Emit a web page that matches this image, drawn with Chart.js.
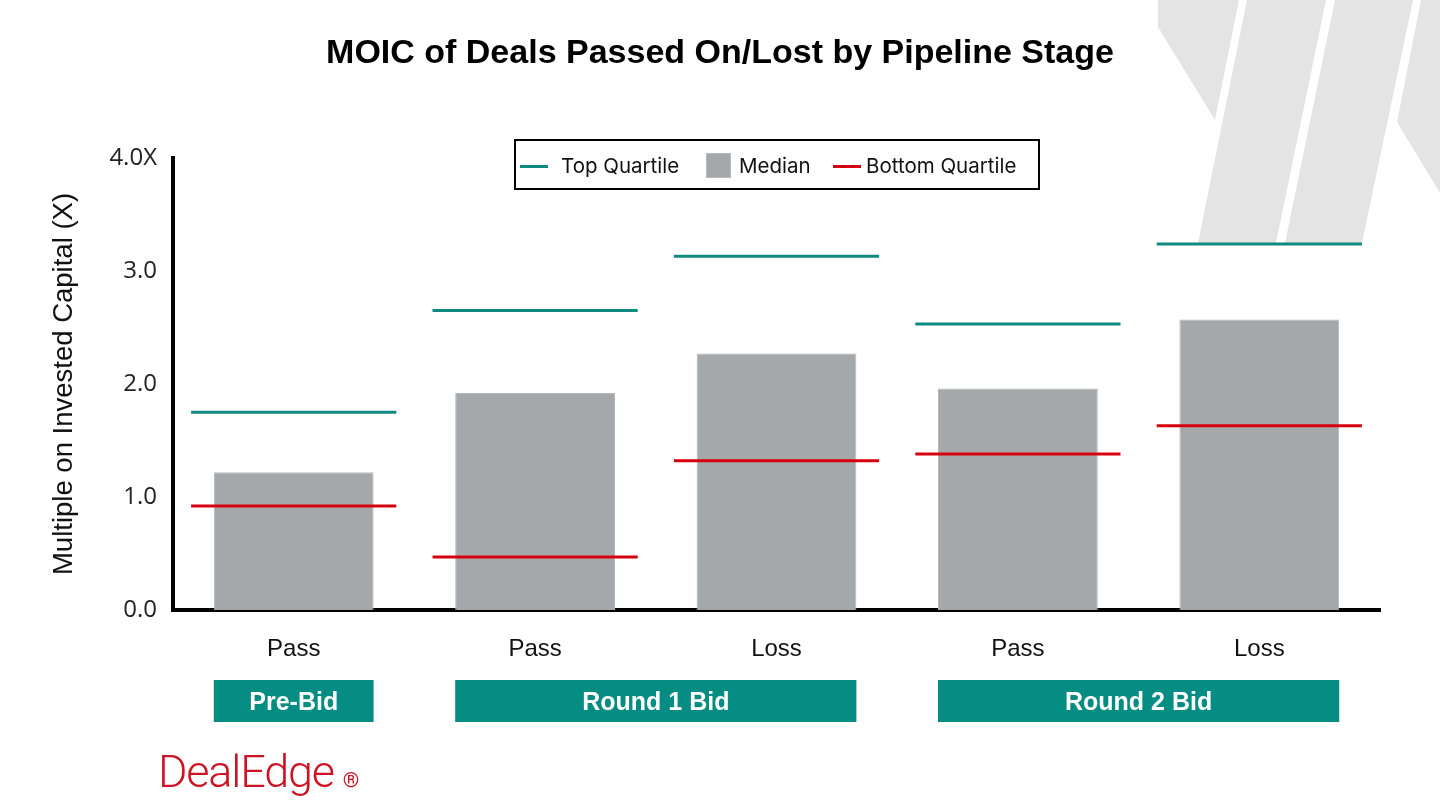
<!DOCTYPE html>
<html>
<head>
<meta charset="utf-8">
<script src="https://cdn.jsdelivr.net/npm/chart.js@4.4.1/dist/chart.umd.min.js"></script>
<style>
  html, body { margin: 0; padding: 0; background: #ffffff; }
  #wrap { position: relative; width: 1440px; height: 810px; overflow: hidden; background: #fff; }
  #deco { position: absolute; left: 0; top: 0; }
  #c { position: absolute; left: 0; top: 0; }
  #title { position: absolute; left: 0; width: 1440px; top: 32px; text-align: center;
           font-family: "Liberation Sans", Arial, sans-serif; font-weight: bold; font-size: 34px; color: #000; }
  #legend { position: absolute; left: 514px; top: 139px; width: 522px; height: 47px; border: 2px solid #000;
            box-sizing: content-box; font-family: Inter, "Noto Sans", sans-serif; font-size: 20.5px; color: #111; }
  .li { position: absolute; top: 1px; height: 47px; line-height: 47px; white-space: nowrap; }
  .sw-line { position: absolute; height: 3px; width: 28px; top: 24px; }
  .sw-box { position: absolute; width: 25px; height: 25px; top: 11px; background: #a4a8ab; border: 1px solid #b8bbbd; box-sizing: border-box; }
  #logo { position: absolute; left: 158px; top: 745px; font-family: Roboto, "Liberation Sans", sans-serif; font-weight: 300;
          font-size: 45px; color: #cc1424; letter-spacing: -1.2px; }
  #logo sup { font-size: 21px; vertical-align: baseline; position: relative; top: 0px; margin-left: 9px; font-weight: 400; letter-spacing: 0; }
</style>
</head>
<body>
<div id="wrap">
  <svg id="deco" width="1440" height="810">
    <polygon points="1158,0 1239,0 1215,120 1158,27" fill="#e4e4e4"/>
    <polygon points="1247,0 1326,0 1276,243 1198,243" fill="#e4e4e4"/>
    <polygon points="1335,0 1413,0 1362,243 1285,243" fill="#e4e4e4"/>
    <polygon points="1421,0 1440,0 1440,193 1397,122" fill="#e4e4e4"/>
  </svg>
  <canvas id="c" width="1440" height="810"></canvas>
  <div id="title">MOIC of Deals Passed On/Lost by Pipeline Stage</div>
  <div id="legend">
    <div class="sw-line" style="left:4px;background:#0e8a80;"></div>
    <div class="li" style="left:45px;">Top Quartile</div>
    <div class="sw-box" style="left:190px;top:12px;"></div>
    <div class="li" style="left:223px;">Median</div>
    <div class="sw-line" style="left:317px;background:#d7000f;"></div>
    <div class="li" style="left:350px;">Bottom Quartile</div>
  </div>
  <div id="logo">DealEdge<sup>®</sup></div>
</div>
<script>
// ---- data ----
const categories = ['Pass', 'Pass', 'Loss', 'Pass', 'Loss'];
const medianValues = [1.22, 1.92, 2.27, 1.96, 2.57];
const topQuartile = [1.75, 2.65, 3.13, 2.53, 3.24];
const bottomQuartile = [0.92, 0.47, 1.32, 1.38, 1.63];
const yTickLabels = ['0.0', '1.0', '2.0', '3.0', '4.0X'];
const stageNames = ['Pre-Bid', 'Round 1 Bid', 'Round 2 Bid'];
const stageStart = [0, 1, 3];
const stageEnd = [0, 2, 4];

const BAR_PCT = 0.662;
const LINE_PCT = 0.85;

const stagePlugin = {
  id: 'stages',
  afterDraw(chart) {
    const x = chart.scales.x;
    const ctx = chart.ctx;
    const catW = x.width / categories.length;
    const half = catW * BAR_PCT / 2;
    ctx.save();
    for (let i = 0; i < stageNames.length; i++) {
      const l = x.getPixelForValue(stageStart[i]) - half;
      const r = x.getPixelForValue(stageEnd[i]) + half;
      ctx.fillStyle = '#058c83';
      ctx.fillRect(l, 680, r - l, 42);
      ctx.fillStyle = '#ffffff';
      ctx.font = 'bold 25px "Liberation Sans", Arial, sans-serif';
      ctx.textAlign = 'center';
      ctx.textBaseline = 'middle';
      ctx.fillText(stageNames[i], (l + r) / 2, 703);
    }
    ctx.restore();
  }
};

const catWidthPx = (1440 - 60 - 173) / categories.length;
const lineRadius = catWidthPx * LINE_PCT / 2;

new Chart(document.getElementById('c'), {
  data: {
    labels: categories,
    datasets: [
      {
        type: 'line', label: 'Top Quartile', data: topQuartile, showLine: false,
        pointStyle: 'line', pointRadius: lineRadius, pointHoverRadius: lineRadius,
        pointBorderWidth: 3, pointBorderColor: '#0e8a80', pointBackgroundColor: '#0e8a80', order: 0, clip: false
      },
      {
        type: 'line', label: 'Bottom Quartile', data: bottomQuartile, showLine: false,
        pointStyle: 'line', pointRadius: lineRadius, pointHoverRadius: lineRadius,
        pointBorderWidth: 3, pointBorderColor: '#d7000f', pointBackgroundColor: '#d7000f', order: 0, clip: false
      },
      {
        type: 'bar', label: 'Median', data: medianValues,
        backgroundColor: '#a4a8ab', borderColor: '#b4b7b9', borderWidth: 1,
        barPercentage: BAR_PCT, categoryPercentage: 1.0, order: 1
      }
    ]
  },
  options: {
    responsive: false,
    animation: false,
    events: [],
    layout: { autoPadding: false, padding: { top: 158, right: 60, bottom: 0, left: 0 } },
    plugins: { legend: { display: false }, tooltip: { enabled: false }, title: { display: false } },
    scales: {
      x: {
        type: 'category',
        grid: { display: false, drawTicks: false },
        border: { display: true, color: '#000', width: 4 },
        ticks: { color: '#111', font: { family: '"Liberation Sans", Arial, sans-serif', size: 24 }, padding: 25, maxRotation: 0 },
        afterFit(s) { s.height = 200; }
      },
      y: {
        min: 0, max: 4,
        grid: { display: false, drawTicks: false },
        border: { display: true, color: '#000', width: 4 },
        ticks: {
          stepSize: 1,
          color: '#222',
          font: { family: '"Open Sans", Lato, sans-serif', size: 24 },
          padding: 16,
          callback: (v) => yTickLabels[Math.round(v)]
        },
        title: {
          display: true, text: 'Multiple on Invested Capital (X)', color: '#111',
          font: { family: '"Liberation Sans", Arial, sans-serif', size: 27.5 },
          padding: { top: 48, bottom: 0 }
        },
        afterFit(s) { s.width = 173; }
      }
    }
  },
  plugins: [stagePlugin]
});
</script>
</body>
</html>
